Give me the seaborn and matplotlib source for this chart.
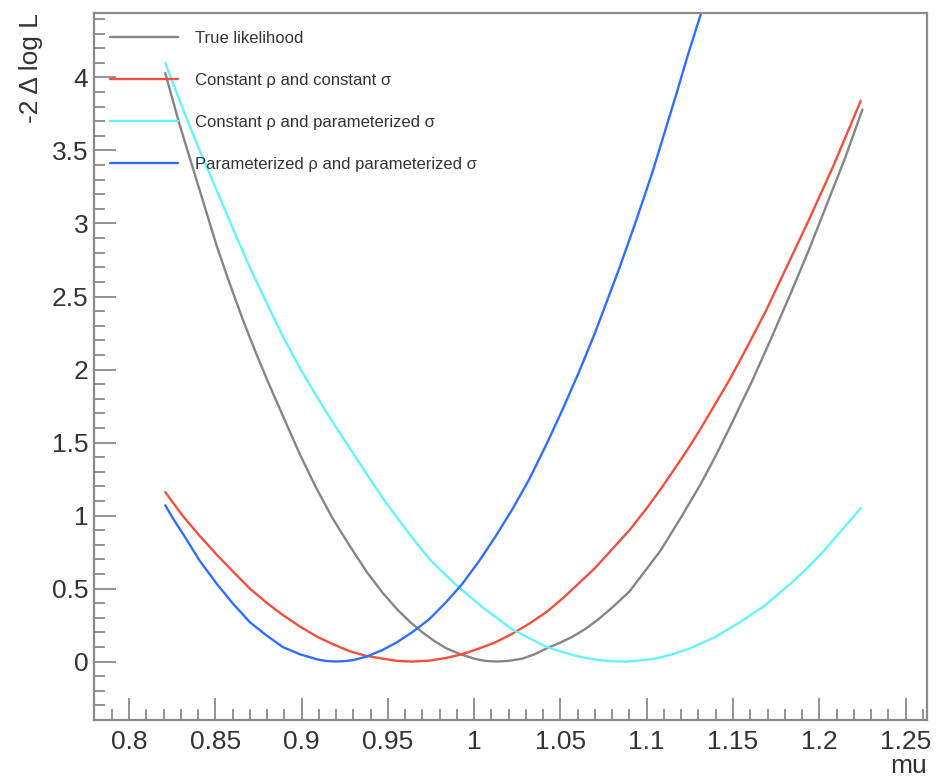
import numpy as np
import pandas as pd
import matplotlib
matplotlib.use("Agg")
import matplotlib.pyplot as plt
import seaborn as sns
from matplotlib.ticker import MultipleLocator

# ---- data ----
true_x = [0.821, 0.829, 0.837, 0.844, 0.851, 0.858, 0.866, 0.873, 0.880, 0.890, 0.899, 0.908,
          0.918, 0.928, 0.938, 0.947, 0.956, 0.963, 0.970, 0.977, 0.984, 0.992, 1.000, 1.006,
          1.013, 1.020, 1.028, 1.035, 1.042, 1.050, 1.057, 1.064, 1.071, 1.080, 1.090, 1.099,
          1.108, 1.120, 1.131, 1.140, 1.148, 1.161, 1.172, 1.183, 1.194, 1.204, 1.215, 1.225]
true_y = [4.03, 3.69, 3.38, 3.11, 2.84, 2.60, 2.34, 2.13, 1.93, 1.66, 1.42, 1.20,
          0.98, 0.79, 0.61, 0.47, 0.35, 0.27, 0.20, 0.14, 0.09, 0.05, 0.02, 0.005,
          0.0, 0.005, 0.02, 0.05, 0.09, 0.13, 0.17, 0.22, 0.28, 0.37, 0.48, 0.62,
          0.76, 0.99, 1.21, 1.41, 1.60, 1.92, 2.21, 2.51, 2.82, 3.12, 3.45, 3.78]

cc_x = [0.821, 0.831, 0.841, 0.851, 0.860, 0.870, 0.880, 0.889, 0.899, 0.909, 0.918, 0.928,
        0.937, 0.947, 0.955, 0.964, 0.974, 0.984, 0.993, 1.003, 1.012, 1.022, 1.032, 1.042,
        1.052, 1.061, 1.070, 1.080, 1.090, 1.100, 1.108, 1.115, 1.123, 1.131, 1.140, 1.148,
        1.158, 1.169, 1.181, 1.193, 1.208, 1.224]
cc_y = [1.16, 1.00, 0.86, 0.73, 0.62, 0.50, 0.40, 0.32, 0.24, 0.17, 0.12, 0.07,
        0.04, 0.02, 0.005, 0.0, 0.006, 0.025, 0.05, 0.09, 0.13, 0.19, 0.26, 0.34,
        0.44, 0.54, 0.64, 0.77, 0.90, 1.05, 1.18, 1.30, 1.44, 1.59, 1.77, 1.93,
        2.15, 2.40, 2.70, 3.00, 3.39, 3.84]

cp_x = [0.821, 0.831, 0.841, 0.850, 0.860, 0.870, 0.880, 0.889, 0.899, 0.908, 0.918, 0.928,
        0.938, 0.947, 0.957, 0.966, 0.975, 0.982, 0.989, 0.997, 1.005, 1.013, 1.022, 1.032,
        1.042, 1.050, 1.057, 1.064, 1.071, 1.080, 1.088, 1.096, 1.105, 1.115, 1.125, 1.140,
        1.154, 1.168, 1.183, 1.193, 1.202, 1.213, 1.224]
cp_y = [4.10, 3.79, 3.50, 3.25, 2.97, 2.70, 2.45, 2.23, 2.01, 1.83, 1.64, 1.46,
        1.28, 1.12, 0.96, 0.82, 0.69, 0.61, 0.53, 0.45, 0.37, 0.30, 0.22, 0.16,
        0.10, 0.07, 0.045, 0.026, 0.012, 0.002, 0.0, 0.007, 0.02, 0.05, 0.09, 0.17,
        0.27, 0.38, 0.53, 0.64, 0.75, 0.90, 1.05]

pp_x = [0.821, 0.826, 0.831, 0.841, 0.851, 0.860, 0.870, 0.879, 0.889, 0.899, 0.909, 0.914,
        0.920, 0.925, 0.930, 0.938, 0.947, 0.955, 0.964, 0.974, 0.984, 0.993, 1.003, 1.012,
        1.022, 1.032, 1.042, 1.051, 1.061, 1.070, 1.084, 1.093, 1.103, 1.110, 1.117, 1.124,
        1.1315, 1.136]
pp_y = [1.07, 0.97, 0.88, 0.69, 0.53, 0.40, 0.27, 0.185, 0.10, 0.05, 0.015, 0.004,
        0.0, 0.003, 0.01, 0.035, 0.08, 0.13, 0.20, 0.29, 0.41, 0.53, 0.69, 0.85,
        1.04, 1.25, 1.49, 1.72, 1.99, 2.25, 2.69, 2.99, 3.34, 3.61, 3.88, 4.16,
        4.44, 4.65]

labels = ["True likelihood",
          "Constant \u03c1 and constant \u03c3",
          "Constant \u03c1 and parameterized \u03c3",
          "Parameterized \u03c1 and parameterized \u03c3"]
colors = ["#858585", "#f0503c", "#66f2ff", "#2f6fff"]

frames = []
for lab, xs, ys in zip(labels, [true_x, cc_x, cp_x, pp_x], [true_y, cc_y, cp_y, pp_y]):
    frames.append(pd.DataFrame({"mu": xs, "nll": ys, "curve": lab}))
df = pd.concat(frames, ignore_index=True)

# ---- style ----
sns.set_theme(style="white")
plt.rcParams["font.family"] = ["Liberation Sans", "DejaVu Sans"]

fig = plt.figure(figsize=(9.36, 7.78), dpi=100)
ax = fig.add_axes([0.1004, 0.0746, 0.8896, 0.9084])

sns.lineplot(data=df, x="mu", y="nll", hue="curve", hue_order=labels,
             palette=dict(zip(labels, colors)), sort=False, estimator=None,
             linewidth=1.7, ax=ax)

ax.set_xlim(0.7797, 1.2622)
ax.set_ylim(-0.40, 4.44)

ax.xaxis.set_minor_locator(MultipleLocator(0.01))
ax.yaxis.set_minor_locator(MultipleLocator(0.1))
ax.set_xticks(np.arange(0.8, 1.2501, 0.05))
ax.set_xticklabels(["0.8", "0.85", "0.9", "0.95", "1", "1.05", "1.1", "1.15", "1.2", "1.25"])
ax.set_yticks(np.arange(0, 4.01, 0.5))
ax.set_yticklabels(["0", "0.5", "1", "1.5", "2", "2.5", "3", "3.5", "4"])

framecol = "#8a8a8a"
for s in ax.spines.values():
    s.set_color(framecol)
    s.set_linewidth(1.6)
ax.tick_params(axis="both", which="major", direction="in", length=16, width=1.3,
               color=framecol, labelsize=19, labelcolor="#333333", top=False, right=False,
               bottom=True, left=True)
ax.tick_params(axis="both", which="minor", direction="in", length=8, width=1.3,
               color=framecol, top=False, right=False, bottom=True, left=True)
ax.tick_params(axis="x", which="major", pad=7)
ax.tick_params(axis="y", which="major", pad=4)

ax.set_xlabel("mu", loc="right", fontsize=19, color="#333333", labelpad=0)
ax.set_ylabel("-2 \u0394 log L", loc="top", fontsize=19, color="#333333", labelpad=6)

leg = ax.legend(loc="upper left", bbox_to_anchor=(0.019, 0.975), frameon=False,
                fontsize=12, handlelength=4.1, handletextpad=1.0, labelspacing=1.62,
                borderaxespad=0, borderpad=0)
for h in leg.get_lines():
    h.set_linewidth(1.7)
for t in leg.get_texts():
    t.set_color("#333333")

fig.savefig("out.png", dpi=100)
